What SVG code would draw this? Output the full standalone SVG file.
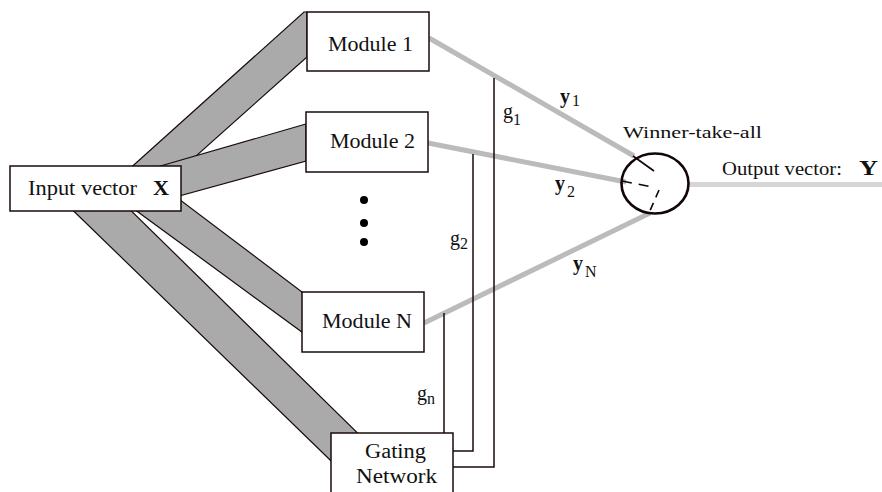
<svg xmlns="http://www.w3.org/2000/svg" width="882" height="492" viewBox="0 0 882 492">
<style>
.band{fill:#aaaaaa;stroke:#1a0a0a;stroke-width:1.2}
.box{fill:#ffffff;stroke:#1a0a0a;stroke-width:1.5}
.out{fill:none;stroke:#bbbbbb;stroke-width:5}
.gl{fill:none;stroke:#1a0808;stroke-width:1.5}
text{font-family:'Liberation Serif','Times New Roman',Times,'DejaVu Serif',serif;fill:#111}
.b{font-weight:bold}
</style>
<rect width="882" height="492" fill="#ffffff"/>
<g id="connectors">
  <polygon class="band" points="52,190 110,190 380,455 360,489"/>
  <polygon class="band" points="108,190 167,190 306,295 306,335"/>
  <polygon class="band" points="106,190 304,12 307,12 307,57 158,190"/>
  <polygon class="band" points="150,169 306,124 306,161 150,204"/>
  <line class="out" x1="429" y1="38" x2="634" y2="156"/>
  <line class="out" x1="428" y1="143" x2="626" y2="182"/>
  <line class="out" x1="424" y1="323" x2="650" y2="213"/>
  <line x1="689" y1="184.5" x2="882" y2="184.5" stroke="#d6d6d6" stroke-width="5"/>
  <polyline class="gl" points="494,78 494,467 453,467"/>
  <polyline class="gl" points="473,154 473,451 453,451"/>
  <line class="gl" x1="444" y1="313" x2="444" y2="433"/>
</g>
<g id="input" font-family="Liberation Serif, serif">
  <rect class="box" x="10" y="166" width="171" height="45"/>
  <text x="28" y="195" font-size="21" textLength="109" lengthAdjust="spacingAndGlyphs">Input vector</text>
  <text class="b" x="153" y="195" font-size="21" textLength="16" lengthAdjust="spacingAndGlyphs">X</text>
</g>
<g id="module1">
  <rect class="box" x="307" y="12" width="122" height="59"/>
  <text x="328" y="51" font-size="21" textLength="85" lengthAdjust="spacingAndGlyphs">Module 1</text>
</g>
<g id="module2">
  <rect class="box" x="306" y="112" width="122" height="60"/>
  <text x="330" y="148" font-size="21" textLength="85" lengthAdjust="spacingAndGlyphs">Module 2</text>
</g>
<g id="dots">
  <circle cx="364" cy="200" r="4" fill="#000"/>
  <circle cx="364" cy="223" r="4" fill="#000"/>
  <circle cx="364" cy="242" r="4" fill="#000"/>
</g>
<g id="moduleN">
  <rect class="box" x="302" y="292" width="122" height="60"/>
  <text x="322" y="328" font-size="21" textLength="90" lengthAdjust="spacingAndGlyphs">Module N</text>
</g>
<g id="gating">
  <rect class="box" x="331" y="433" width="122" height="70"/>
  <text x="365" y="458" font-size="20" textLength="61" lengthAdjust="spacingAndGlyphs">Gating</text>
  <text x="356" y="483" font-size="20" textLength="81" lengthAdjust="spacingAndGlyphs">Network</text>
</g>
<g id="wta">
  <ellipse cx="655" cy="183.5" rx="33.5" ry="30" fill="none" stroke="#120505" stroke-width="2.6"/>
  <line x1="633" y1="156" x2="654" y2="171" stroke="#120505" stroke-width="1.6"/>
  <line x1="622" y1="181" x2="652" y2="187" stroke="#120505" stroke-width="1.6" stroke-dasharray="10,7"/>
  <line x1="659" y1="190" x2="649" y2="213" stroke="#120505" stroke-width="1.6" stroke-dasharray="8,6"/>
  <text x="623" y="138" font-size="17" textLength="139" lengthAdjust="spacingAndGlyphs">Winner-take-all</text>
</g>
<g id="output">
  <text x="722" y="175" font-size="19" textLength="120" lengthAdjust="spacingAndGlyphs">Output vector:</text>
  <text class="b" x="859" y="175" font-size="20" textLength="19" lengthAdjust="spacingAndGlyphs">Y</text>
</g>
<g id="labels">
  <text class="b" x="560" y="103" font-size="20">y</text>
  <text x="572" y="106" font-size="16">1</text>
  <text x="503" y="118" font-size="20">g</text>
  <text x="513" y="125" font-size="16">1</text>
  <text class="b" x="555" y="190" font-size="20">y</text>
  <text x="567" y="197" font-size="16">2</text>
  <text x="450" y="245" font-size="20">g</text>
  <text x="460" y="249" font-size="16">2</text>
  <text class="b" x="573" y="270" font-size="20">y</text>
  <text x="585" y="277" font-size="16">N</text>
  <text x="417" y="400" font-size="20">g</text>
  <text x="427" y="404" font-size="16">n</text>
</g>
</svg>
